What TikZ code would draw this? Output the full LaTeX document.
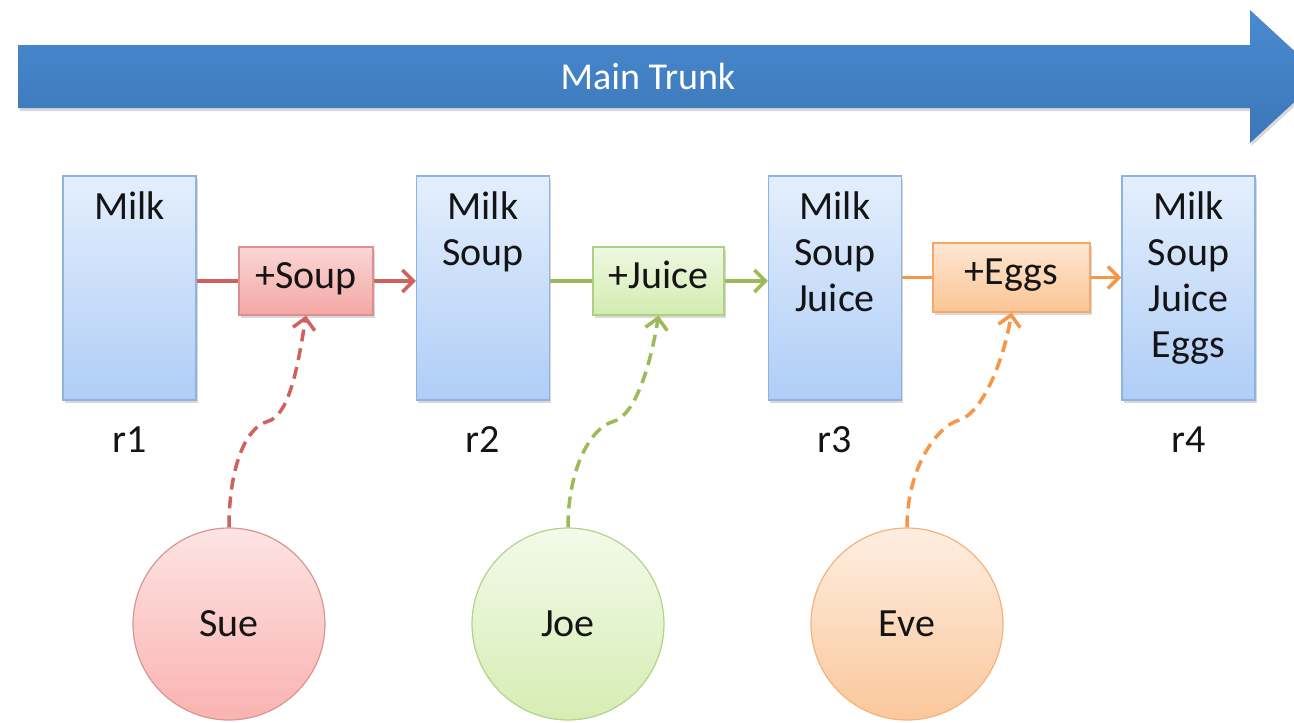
\documentclass[tikz,border=0pt]{standalone}
\usepackage{fontspec}
\setmainfont{Carlito}
\usetikzlibrary{arrows.meta,calc,shadows}
\definecolor{revtop}{HTML}{E4EFFD}
\definecolor{revbot}{HTML}{AFCDF6}
\definecolor{revborder}{HTML}{8DB3E2}
\definecolor{trunktop}{HTML}{4A8ACF}
\definecolor{trunkbot}{HTML}{3B77B9}
\definecolor{souptop}{HTML}{FAD6D5}
\definecolor{soupbot}{HTML}{F4A7A4}
\definecolor{soupborder}{HTML}{D9908E}
\definecolor{soupline}{HTML}{CF625E}
\definecolor{juicetop}{HTML}{EEF8E2}
\definecolor{juicebot}{HTML}{D3ECB0}
\definecolor{juiceborder}{HTML}{AFD080}
\definecolor{juiceline}{HTML}{9BBB59}
\definecolor{eggstop}{HTML}{FEE6D2}
\definecolor{eggsbot}{HTML}{FBC594}
\definecolor{eggsborder}{HTML}{F5A867}
\definecolor{eggsline}{HTML}{F79646}
\definecolor{suetop}{HTML}{FDE4E4}
\definecolor{suebot}{HTML}{FAB3B1}
\definecolor{sueborder}{HTML}{D99592}
\definecolor{joetop}{HTML}{F3FAEA}
\definecolor{joebot}{HTML}{D6EDB3}
\definecolor{joeborder}{HTML}{B4D38A}
\definecolor{evetop}{HTML}{FEEEE1}
\definecolor{evebot}{HTML}{FBC79C}
\definecolor{eveborder}{HTML}{F6B27A}
\definecolor{textcol}{HTML}{141414}
\tikzset{
  bigfont/.style={font=\fontsize{40}{46}\selectfont, text=textcol},
  softshadow/.style={drop shadow={shadow xshift=1.5pt, shadow yshift=-3pt, opacity=0.15, fill=black}},
  revbox/.style={draw=revborder, line width=1.2pt, top color=revtop, bottom color=revbot,
    minimum width=133pt, minimum height=224pt, inner sep=0pt, softshadow},
  revtext/.style={bigfont, align=center, anchor=north, inner sep=0pt},
  revlabel/.style={bigfont, anchor=base, inner sep=0pt},
  changebox/.style={line width=1.2pt, minimum height=68pt, inner sep=0pt, bigfont,
    text height=24pt, text depth=10pt, softshadow},
  person/.style={circle, line width=1.2pt, minimum size=192pt, inner sep=0pt, bigfont,
    text height=25pt, text depth=0pt},
  solidconn/.style={line width=3.5pt},
  arrowconn/.style={line width=3.5pt, -{Straight Barb[length=11pt,width=22pt]}},
  dashconn/.style={line width=3.5pt, dash pattern=on 12pt off 7pt, -{Straight Barb[length=11pt,width=22pt]}},
}
\begin{document}
\begin{tikzpicture}[x=1pt,y=-1pt]
\useasboundingbox (0,0) rectangle (1294,723);
\clip (0,0) rectangle (1294,723);
\fill[white] (0,0) rectangle (1294,723);

% main trunk arrow
\shade[top color=trunktop, bottom color=trunkbot, softshadow]
  (18,45) -- (1250,45) -- (1250,10) -- (1322,76.5) -- (1250,143) -- (1250,108) -- (18,108) -- cycle;
\node[font=\fontsize{38}{42}\selectfont, text=white, inner sep=0pt] (trunk) at (648,76) {Main Trunk};

% revisions
\node[revbox] (r1) at (129.5,288) {};
\node[revbox] (r2) at (483,288) {};
\node[revbox] (r3) at (835,288) {};
\node[revbox] (r4) at (1188.5,288) {};

\node[revtext] (r1t) at ($(r1.north)+(0,12)$) {\rule{0pt}{32pt}Milk};
\node[revtext] (r2t) at ($(r2.north)+(0,12)$) {\rule{0pt}{32pt}Milk\\Soup};
\node[revtext] (r3t) at ($(r3.north)+(0,12)$) {\rule{0pt}{32pt}Milk\\Soup\\Juice};
\node[revtext] (r4t) at ($(r4.north)+(0,12)$) {\rule{0pt}{32pt}Milk\\Soup\\Juice\\Eggs};

\node[revlabel] (r1l) at (129.5,452) {r1};
\node[revlabel] (r2l) at (483,452) {r2};
\node[revlabel] (r3l) at (835,452) {r3};
\node[revlabel] (r4l) at (1188.5,452) {r4};

% change boxes
\node[changebox, draw=soupborder, top color=souptop, bottom color=soupbot, minimum width=134pt] (sb) at (306,281) {+Soup};
\node[changebox, draw=juiceborder, top color=juicetop, bottom color=juicebot, minimum width=131pt] (jb) at (658.5,281) {+Juice};
\node[changebox, draw=eggsborder, top color=eggstop, bottom color=eggsbot, minimum width=157pt, minimum height=69pt] (eb) at (1011.5,277.5) {+Eggs};

% people
\node[person, draw=sueborder, top color=suetop, bottom color=suebot] (sue) at (229,624) {Sue};
\node[person, draw=joeborder, top color=joetop, bottom color=joebot] (joe) at (568,624) {Joe};
\node[person, draw=eveborder, top color=evetop, bottom color=evebot] (eve) at (907,624) {Eve};

% horizontal connectors
\draw[solidconn, soupline] (r1.east |- sb.west) -- (sb.west);
\draw[arrowconn, soupline] (sb.east) -- (r2.west |- sb.east);
\draw[solidconn, juiceline] (r2.east |- jb.west) -- (jb.west);
\draw[arrowconn, juiceline] (jb.east) -- (r3.west |- jb.east);
\draw[solidconn, eggsline] (r3.east |- eb.west) -- (eb.west);
\draw[arrowconn, eggsline] (eb.east) -- (r4.west |- eb.east);

% dashed connectors
\coordinate (sm) at ($(sue.north)!0.5!(sb.south)$);
\coordinate (jm) at ($(joe.north)!0.5!(jb.south)$);
\coordinate (em) at ($(eve.north)!0.5!(eb.south)$);
\draw[dashconn, soupline] (sue.north) .. controls ($(sue.north)+(0,-60)$) and ($(sm)+(-22,6)$) .. (sm)
  .. controls ($(sm)+(22,-6)$) and ($(sb.south)+(-8,50)$) .. (sb.south);
\draw[dashconn, juiceline] (joe.north) .. controls ($(joe.north)+(0,-60)$) and ($(jm)+(-22,6)$) .. (jm)
  .. controls ($(jm)+(22,-6)$) and ($(jb.south)+(-8,50)$) .. (jb.south);
\draw[dashconn, eggsline] (eve.north) .. controls ($(eve.north)+(0,-60)$) and ($(em)+(-22,6)$) .. (em)
  .. controls ($(em)+(22,-6)$) and ($(eb.south)+(-8,50)$) .. (eb.south);
\end{tikzpicture}
\end{document}
